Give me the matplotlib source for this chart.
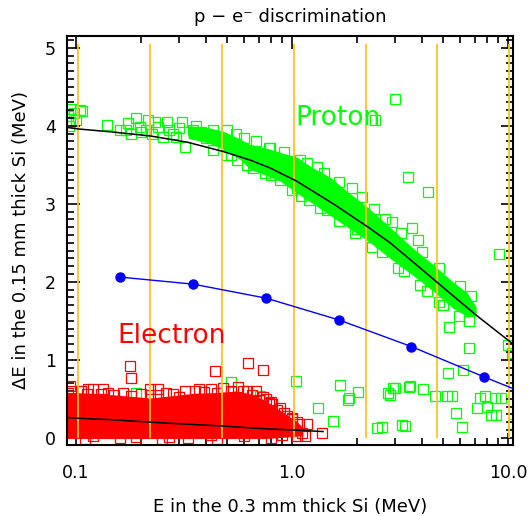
import numpy as np
import matplotlib
matplotlib.use("Agg")
import matplotlib.pyplot as plt
from matplotlib.ticker import FixedLocator, LogLocator, MultipleLocator, NullFormatter

# ---- data ----
# dense proton band (core region): x, upper and lower edge
band_p_x = [0.33, 0.38, 0.42, 0.48, 0.575, 0.64, 0.75, 0.88, 1.05, 1.25, 1.50,
            1.80, 2.25, 2.84, 3.63, 4.50, 5.55, 6.45, 7.10]
band_p_hi = [4.00, 3.99, 3.97, 3.93, 3.83, 3.76, 3.72, 3.66, 3.60, 3.46, 3.34,
             3.16, 2.95, 2.70, 2.43, 2.22, 2.00, 1.86, 1.68]
band_p_lo = [3.84, 3.80, 3.77, 3.70, 3.57, 3.44, 3.37, 3.29, 3.14, 3.00, 2.85,
             2.70, 2.52, 2.30, 2.08, 1.88, 1.66, 1.56, 1.56]

# proton events outside/at the edge of the core
prot_x = [0.092, 0.094, 0.096, 0.098, 0.100, 0.104, 0.107, 0.093, 0.139,
          0.160, 0.170, 0.174, 0.180, 0.190, 0.198, 0.200, 0.210, 0.215, 0.225,
          0.232, 0.240, 0.253, 0.264, 0.270, 0.280, 0.290, 0.300, 0.310, 0.320,
          0.348, 0.360, 0.380, 0.400, 0.430, 0.430, 0.450, 0.555, 0.500, 0.620,
          0.790, 0.800, 1.050, 1.090, 1.170, 1.900, 2.100, 2.900, 3.830,
          0.600, 0.750, 1.000, 1.200, 1.450, 2.000, 2.600, 3.300, 4.200, 5.000,
          # upper fringe
          0.500, 0.550, 0.680, 0.780, 0.920, 1.300, 1.400, 1.650, 2.400, 2.700,
          3.200, 4.000, 4.800, 6.000, 6.700,
          # lower fringe
          0.520, 0.660, 0.880, 1.100, 1.350, 1.650, 1.950, 2.350, 3.100, 3.900,
          4.800, 5.900, 6.600,
          # stragglers
          2.420, 3.000, 3.450, 4.260, 3.600, 9.100, 5.330, 6.600, 10.00, 10.40,
          5.270, 6.200, 3.000, 2.840, 3.480, 3.520, 4.040, 4.600, 5.200, 5.500,
          7.800, 9.300, 8.000, 8.800, 5.750, 6.100, 3.330, 2.600, 10.50,
          1.670, 2.020, 1.810, 1.830, 1.320, 1.550, 2.470, 3.230, 2.780, 2.930,
          7.200, 7.400, 8.700, 8.300, 1.040, 0.520, 0.710, 0.190]
prot_y = [4.12, 4.05, 4.22, 4.17, 4.08, 4.20, 4.19, 4.00, 4.01,
          3.95, 3.95, 4.04, 3.90, 4.10, 3.99, 3.92, 3.95, 4.08, 3.90,
          4.05, 3.98, 3.86, 4.05, 3.95, 3.90, 3.86, 3.97, 4.05, 3.73,
          3.95, 4.00, 3.92, 3.85, 3.95, 3.69, 3.82, 3.56, 3.63, 3.50,
          3.72, 3.37, 3.20, 3.56, 3.52, 3.20, 3.09, 2.77, 2.54,
          3.84, 3.40, 3.18, 3.05, 2.92, 2.68, 2.38, 2.14, 1.88, 1.70,
          3.95, 3.90, 3.80, 3.72, 3.66, 3.47, 3.40, 3.28, 2.93, 2.80,
          2.62, 2.38, 2.18, 1.95, 1.82,
          3.62, 3.46, 3.30, 3.10, 2.95, 2.78, 2.62, 2.45, 2.18, 1.96,
          1.74, 1.56, 1.50,
          4.08, 4.35, 3.35, 3.15, 2.69, 2.36, 1.42, 1.15, 1.19, 1.09,
          0.83, 0.87, 0.64, 0.55, 0.65, 0.67, 0.62, 0.53, 0.53, 0.53,
          0.53, 0.51, 0.40, 0.29, 0.32, 0.14, 0.15, 0.14, 0.18,
          0.68, 0.59, 0.49, 0.51, 0.38, 0.21, 0.13, 0.17, 0.58, 0.64,
          0.38, 0.51, 0.51, 0.29, 0.73, 0.71, 0.54, 0.57]

# dense electron region (core): x, upper and lower edge
band_e_x = [0.0905, 0.10, 0.15, 0.22, 0.28, 0.35, 0.45, 0.55, 0.65, 0.75,
            0.85, 0.95, 1.05, 1.12]
band_e_hi = [0.58, 0.58, 0.55, 0.51, 0.54, 0.57, 0.58, 0.60, 0.56, 0.48,
             0.38, 0.29, 0.21, 0.13]
band_e_lo = [-0.01, -0.01, -0.01, -0.01, -0.01, -0.01, -0.01, -0.01, -0.01,
             -0.01, 0.00, 0.01, 0.02, 0.03]

# electron events at the edge / outside the core
elec_x = [0.096, 0.112, 0.130, 0.150, 0.180, 0.220, 0.240, 0.300, 0.355,
          0.390, 0.450, 0.520, 0.590, 0.650, 0.730, 0.810, 0.850, 0.950,
          1.050, 1.170, 1.150, 1.110, 1.370, 0.094, 0.114, 0.133, 0.220,
          0.240, 0.178, 0.180, 0.440, 0.625, 0.730, 0.700, 0.780, 1.000,
          # top fringe
          0.092, 0.105, 0.120, 0.140, 0.165, 0.200, 0.260, 0.280, 0.320,
          0.370, 0.420, 0.480, 0.560, 0.620, 0.680, 0.760, 0.800, 0.880,
          0.920, 1.000, 1.080,
          # bottom fringe
          0.110, 0.160, 0.250, 0.330, 0.450, 0.800, 1.050, 0.120, 0.190,
          0.420, 0.600, 0.900, 0.270]
elec_y = [0.60, 0.56, 0.56, 0.55, 0.53, 0.55, 0.55, 0.52, 0.60,
          0.59, 0.58, 0.60, 0.60, 0.55, 0.52, 0.43, 0.35, 0.28,
          0.20, 0.18, 0.02, 0.06, 0.06, 0.67, 0.63, 0.63, 0.62,
          0.62, 0.92, 0.76, 0.86, 0.96, 0.87, 0.49, 0.45, 0.24,
          0.58, 0.60, 0.62, 0.58, 0.57, 0.56, 0.58, 0.56, 0.60,
          0.62, 0.63, 0.64, 0.65, 0.60, 0.60, 0.50, 0.46, 0.38,
          0.32, 0.25, 0.18,
          -0.01, 0.00, -0.01, 0.00, -0.01, 0.00, 0.02, 0.02, 0.01,
          0.03, 0.02, 0.03, 0.01]

# mean curves
fit_p_x = [0.0905, 0.102, 0.148, 0.22, 0.327, 0.48, 0.64, 0.79, 1.05, 1.55,
           2.25, 2.84, 3.4, 4.94, 7.2, 10.55]
fit_p_y = [3.98, 3.96, 3.92, 3.87, 3.79, 3.67, 3.56, 3.46, 3.29, 3.00,
           2.70, 2.50, 2.32, 1.94, 1.56, 1.20]
fit_e_x = [0.0905, 0.102, 0.15, 0.22, 0.35, 0.48, 0.70, 1.00, 1.39]
fit_e_y = [0.26, 0.25, 0.23, 0.20, 0.17, 0.15, 0.12, 0.10, 0.08]

# separation line
sep_x = [0.16, 0.348, 0.758, 1.65, 3.56, 7.74]
sep_y = [2.06, 1.97, 1.79, 1.51, 1.17, 0.78]
sep_end = (10.55, 0.63)

# energy bin edges
bins = [0.102, 0.22, 0.474, 1.02, 2.2, 4.7, 10.1]

green = '#00ff00'
red = '#ff0000'
orange = '#ffc125'

fig = plt.figure(figsize=(5.28, 5.16), dpi=100)
ax = fig.add_axes([0.127, 0.138, 0.845, 0.792])

ax.fill_between(band_p_x, band_p_lo, band_p_hi, color=green, lw=0, zorder=1)
ax.plot(prot_x, prot_y, ls='none', marker='s', ms=6.5, mfc='none', mec=green,
        mew=0.9, zorder=1)
ax.fill_between(band_e_x, band_e_lo, band_e_hi, color=red, lw=0, zorder=2)
ax.plot(elec_x, elec_y, ls='none', marker='s', ms=6.5, mfc='none', mec=red,
        mew=0.9, zorder=2)

ax.vlines(bins, 0.0, 5.05, colors=orange, lw=1.3, zorder=3)

ax.plot(fit_p_x, fit_p_y, color='black', lw=1.1, zorder=4)
ax.plot(fit_e_x, fit_e_y, color='black', lw=1.1, zorder=4)

ax.plot(sep_x + [sep_end[0]], sep_y + [sep_end[1]], color='blue', lw=1.0, zorder=5)
ax.plot(sep_x, sep_y, ls='none', marker='o', ms=6.5, color='blue', zorder=5)

ax.text(1.03, 4.01, 'Proton', color=green, fontsize=19, ha='left', va='baseline', zorder=6)
ax.text(0.155, 1.22, 'Electron', color=red, fontsize=19, ha='left', va='baseline', zorder=6)

ax.set_xscale('log')
ax.set_xlim(0.0908, 10.55)
ax.set_ylim(-0.09, 5.15)

ax.xaxis.set_major_locator(FixedLocator([0.1, 1.0, 10.0]))
ax.set_xticklabels(['0.1', '1.0', '10.0'])
ax.xaxis.set_minor_locator(LogLocator(base=10, subs=np.arange(2, 10)))
ax.xaxis.set_minor_formatter(NullFormatter())
ax.yaxis.set_major_locator(MultipleLocator(1))
ax.yaxis.set_minor_locator(MultipleLocator(0.1))

ax.tick_params(which='both', direction='in', top=True, right=True, width=1.2,
               labelsize=12.5)
ax.tick_params(which='major', length=9)
ax.tick_params(which='minor', length=5)
ax.tick_params(axis='x', pad=14)
ax.tick_params(axis='y', pad=8)
for s in ax.spines.values():
    s.set_linewidth(1.5)

ax.set_xlabel('E in the 0.3 mm thick Si (MeV)', fontsize=13, labelpad=11)
ax.set_ylabel('ΔE in the 0.15 mm thick Si (MeV)', fontsize=13, labelpad=11)
ax.set_title('p − e⁻ discrimination', fontsize=13, pad=10)

fig.savefig('out.png', dpi=100)
